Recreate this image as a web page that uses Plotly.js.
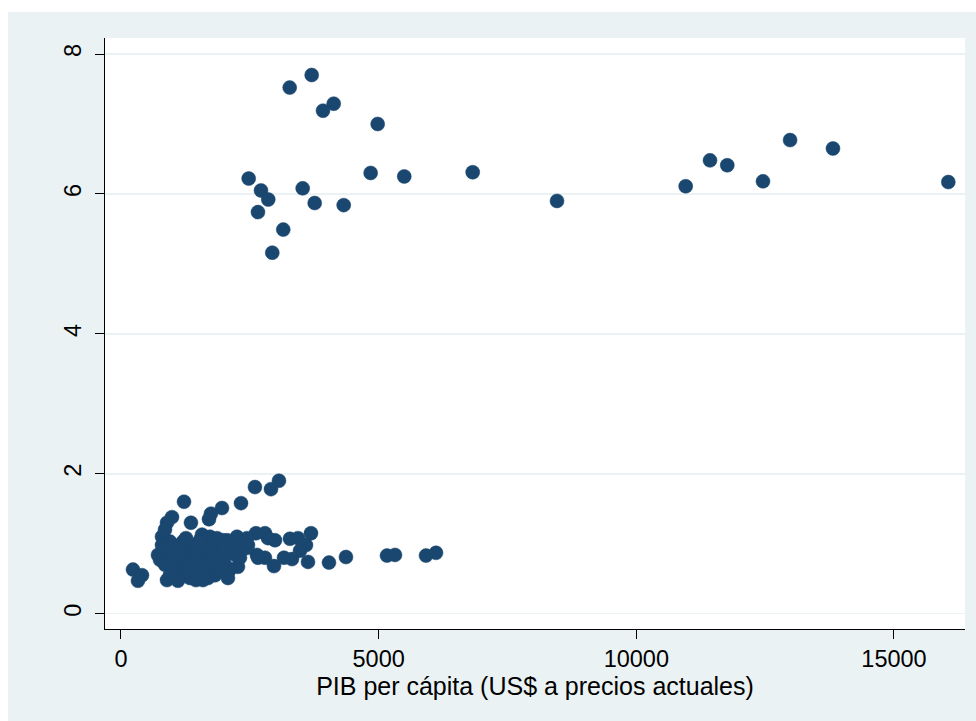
<!DOCTYPE html>
<html>
<head>
<meta charset="utf-8">
<script src="https://cdn.plot.ly/plotly-3.0.1.min.js"></script>
<style>
  html, body { margin: 0; padding: 0; background: #ffffff; width: 976px; height: 721px; overflow: hidden; }
  #chart { position: absolute; left: 8px; top: 12px; width: 968px; height: 709px; }
</style>
</head>
<body>
<div id="chart"></div>
<script>
// GDP per capita (current US$)
const gdpHigh = [3274, 3701, 3920, 4128, 4981, 2478, 2717, 2858, 2658, 3149, 2936, 3526, 3759, 4322, 4845, 5497, 6825, 8461, 10958, 11430, 11765, 12458, 12984, 13816, 16054];
const valHigh = [7.52, 7.70, 7.19, 7.29, 7.00, 6.22, 6.05, 5.92, 5.74, 5.49, 5.16, 6.08, 5.87, 5.84, 6.30, 6.25, 6.31, 5.90, 6.11, 6.48, 6.41, 6.18, 6.77, 6.65, 6.17];

const gdpLow = [3066, 2600, 2911, 1223, 2329, 1960, 1746, 1708, 1358, 990, 893, 854, 796, 1572, 3687, 3279, 3435, 3590, 2988, 2794,
  2620, 2853, 2445, 2251, 2057, 1863, 1727, 1203, 951, 718, 796, 4366, 4036, 3629, 3474, 3318, 3163, 2969, 2794, 2639,
  2464, 2445, 2270, 1863, 233, 407, 330, 893, 1339, 1591, 5162, 5317, 5919, 6113, 1979, 1785, 2251, 2658,
  757, 854, 951, 1048, 1145, 1242, 1339, 1436, 1533, 1630, 1727, 1824, 1921, 2018, 2115, 2212,
  1048, 1145, 1242, 1339, 1436, 1533, 1630, 1727, 1824, 1921, 2018, 2115, 951, 1106, 1455, 1688,
  854, 1145, 1436, 1727, 2018, 990, 1203, 1533, 1261, 1824, 2309, 2076];
const valLow = [1.90, 1.81, 1.78, 1.60, 1.58, 1.51, 1.43, 1.35, 1.30, 1.38, 1.30, 1.20, 1.10, 1.13, 1.15, 1.07, 1.08, 0.98, 1.05, 1.15,
  1.15, 1.08, 1.08, 1.10, 1.05, 1.08, 1.10, 1.03, 1.03, 0.84, 0.98, 0.81, 0.73, 0.74, 0.90, 0.78, 0.80, 0.68, 0.80, 0.84,
  0.98, 0.94, 0.67, 0.67, 0.63, 0.55, 0.47, 0.48, 0.51, 0.48, 0.83, 0.84, 0.83, 0.87, 1.05, 1.03, 0.94, 0.80,
  0.77, 0.70, 0.84, 0.91, 0.77, 0.84, 0.91, 0.84, 0.77, 0.91, 0.84, 0.91, 0.84, 0.84, 0.91, 0.84,
  0.63, 0.55, 0.65, 0.70, 0.63, 0.65, 0.60, 0.70, 0.55, 0.63, 0.70, 0.63, 0.55, 0.47, 0.48, 0.51,
  0.94, 0.98, 0.98, 0.94, 0.94, 0.74, 0.88, 1.05, 1.08, 0.77, 0.80, 0.51];

const xTicks = [0, 5000, 10000, 15000];
const yTicks = [0, 2, 4, 6, 8];
const xTitle = 'PIB per cápita (US$ a precios actuales)';

const xs = gdpHigh.concat(gdpLow);
const ys = valHigh.concat(valLow);

const trace = {
  type: 'scatter',
  mode: 'markers',
  x: xs,
  y: ys,
  marker: { size: 14, color: '#1a476f', line: { color: '#1a476f', width: 0.5 } },
  hoverinfo: 'x+y'
};

const tickFont = { family: 'Liberation Sans, Arial, sans-serif', size: 23.5, color: '#000000' };
const titleFont = { family: 'Liberation Sans, Arial, sans-serif', size: 25, color: '#000000' };

const layout = {
  width: 968,
  height: 709,
  paper_bgcolor: '#eaf2f3',
  plot_bgcolor: '#ffffff',
  margin: { l: 97, r: 11, t: 26, b: 92 },
  showlegend: false,
  font: tickFont,
  xaxis: {
    range: [-310, 16378],
    tickvals: xTicks,
    ticktext: xTicks.map(String),
    showgrid: false,
    zeroline: false,
    showline: true,
    linecolor: '#000000',
    linewidth: 1,
    ticks: 'outside',
    ticklen: 9,
    tickwidth: 1,
    tickcolor: '#000000',
    tickfont: tickFont,
    title: { text: xTitle, font: titleFont, standoff: 2 }
  },
  yaxis: {
    range: [-0.219, 8.229],
    tickvals: yTicks,
    ticktext: yTicks.map(String),
    tickangle: -90,
    ticklabelstandoff: 5,
    showgrid: true,
    gridcolor: '#eaf2f3',
    gridwidth: 1.5,
    zeroline: false,
    showline: true,
    linecolor: '#000000',
    linewidth: 1,
    ticks: 'outside',
    ticklen: 9,
    tickwidth: 1,
    tickcolor: '#000000',
    tickfont: tickFont
  }
};

Plotly.newPlot('chart', [trace], layout, { displayModeBar: false, staticPlot: true });
</script>
</body>
</html>
